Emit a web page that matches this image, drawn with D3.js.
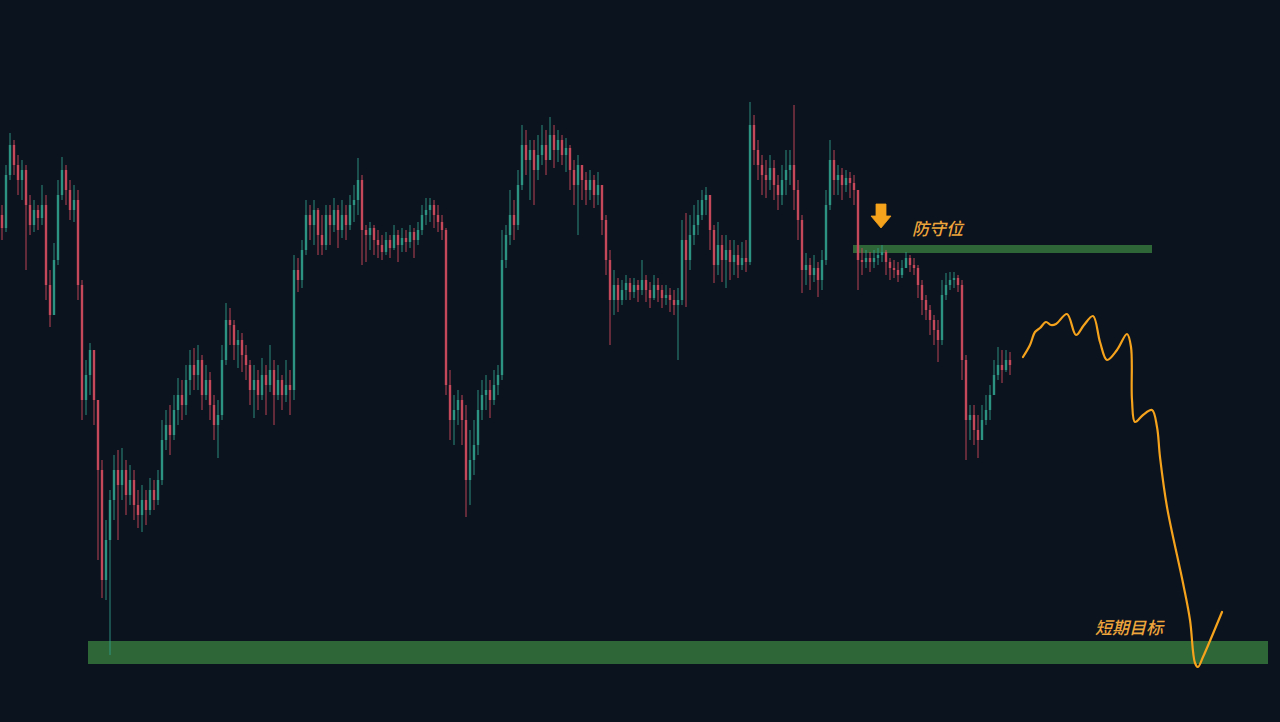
<!DOCTYPE html>
<html>
<head>
<meta charset="utf-8">
<script src="https://cdn.jsdelivr.net/npm/d3@7"></script>
<style>
  html, body { margin: 0; background: #0b131e; }
  svg { display: block; }
</style>
</head>
<body>
<svg id="chart" width="1280" height="722"></svg>
<script>
// price data (one candle per slot, open = previous close)
const firstOpen = 485;
const closes = [
  472,525,555,535,520,530,495,475,490,482,495,415,385,440,505,530,510,490,500,415,
  300,325,350,300,230,120,160,200,230,215,230,205,220,195,185,200,190,210,200,220,
  260,275,265,290,305,295,320,335,325,340,305,320,295,275,285,340,380,375,355,360,
  345,335,310,320,305,325,315,330,305,320,305,315,310,430,420,450,485,475,490,465,
  455,485,475,490,470,485,475,495,500,520,470,465,472,460,455,448,460,452,465,455,
  462,458,468,460,470,485,490,495,485,478,470,315,280,290,300,280,220,240,255,290,
  305,310,300,315,325,440,465,485,475,515,555,540,550,530,545,555,540,565,550,560,
  545,552,530,515,535,520,510,520,505,515,480,440,400,415,400,410,417,408,415,410,
  420,410,402,415,410,402,405,400,395,400,460,440,465,475,485,500,505,470,435,455,
  440,450,438,445,435,442,438,575,550,535,525,520,532,515,505,520,530,535,510,480,
  430,435,425,432,420,440,495,540,520,525,515,522,517,510,440,438,442,438,442,445,
  448,438,432,430,425,432,442,435,432,415,400,390,380,370,360,405,415,420,422,415,
  340,280,285,270,260,280,290,305,325,335,330,340,335
];
const highs = [
  495,535,567,560,545,540,535,505,500,495,515,505,430,457,520,543,535,520,515,510,
  420,340,357,340,280,240,180,210,245,250,252,240,235,230,210,215,210,222,220,230,
  280,290,295,305,322,320,335,350,352,355,345,335,328,305,300,355,397,392,380,370,
  367,355,340,335,330,342,335,355,340,335,325,340,330,445,442,460,500,495,500,492,
  485,495,495,502,495,500,495,505,515,542,525,475,478,475,470,465,468,465,475,470,
  472,470,475,472,478,495,502,502,500,495,485,472,330,305,310,305,295,270,280,310,
  320,325,320,330,335,470,475,510,500,530,575,570,560,560,565,575,570,583,575,570,
  565,562,555,540,545,532,528,530,525,528,500,485,450,430,422,420,425,422,422,420,
  440,425,418,425,422,415,415,412,410,412,480,487,485,495,500,510,513,505,475,478,
  465,465,460,460,455,458,460,598,585,560,545,540,545,540,525,535,550,550,595,520,
  485,447,442,445,438,450,510,560,550,535,532,530,528,525,510,452,450,448,450,452,
  455,450,442,440,438,440,448,445,442,435,420,405,395,385,380,420,427,428,428,425,
  420,345,295,295,285,295,305,315,340,353,350,350,348
];
const lows = [
  460,468,520,525,505,500,430,465,468,470,475,400,373,400,435,500,495,480,478,400,
  280,285,305,275,140,102,100,45,180,160,200,185,195,180,172,168,175,185,190,195,
  215,250,245,260,275,280,285,305,310,310,290,300,280,260,242,280,335,355,340,332,
  328,320,295,282,290,300,285,308,275,300,290,298,285,300,408,412,445,460,455,445,
  445,450,455,468,452,462,460,470,478,485,435,438,450,445,442,440,445,442,450,438,
  448,448,452,442,455,465,475,478,472,468,460,305,260,255,275,255,183,195,225,245,
  280,290,282,295,305,320,432,455,460,470,510,525,500,495,520,535,525,540,532,538,
  535,528,510,495,465,500,495,500,492,495,465,425,355,385,388,395,400,400,402,398,
  405,398,392,400,398,392,395,388,385,340,395,393,430,455,465,480,485,450,417,425,
  418,412,420,425,422,430,428,435,535,520,505,502,510,500,490,495,505,515,490,460,
  407,415,410,418,403,410,435,490,505,505,500,508,502,495,410,425,432,428,432,435,
  438,425,420,422,418,422,432,428,425,402,385,380,365,355,338,355,400,410,412,408,
  320,240,260,255,242,260,275,280,305,320,317,328,325
];

// annotation levels, in candle slots and price units
const defenceZone = { from: 212.75, to: 287.5, low: 447, high: 455 };
const targetZone = { from: 21.5, to: 316.5, low: 36, high: 59 };
const arrowSlot = 219.75;
const arrowPrice = [496, 472];
const defenceLabel = '防守位';
const targetLabel = '短期目标';

// hand-drawn projection after the last candle
const forecastSlots = [255.25,257,258.25,259.5,261,262.25,263.5,266.25,268.5,270.5,272.75,274.5,
  276.25,278.75,281.25,282.25,282.5,283.25,285.25,287.5,288.75,289.5,291.25,295.25,297,298.25,299,300.25,305];
const forecastPrices = [343,355,368,372,378,375,376,386,365,375,384,358,
  340,350,366,353,300,278,285,290,273,243,193,117,80,37,33,43,88];

const candles = closes.map((c, i) => {
  const o = i === 0 ? firstOpen : closes[i - 1];
  return {
    i, o, c,
    h: Math.max(highs[i], o, c),
    l: Math.min(lows[i], o, c)
  };
});

const svg = d3.select('#chart');
const x = d3.scaleLinear().domain([0, closes.length - 1]).range([2, 1010]);
const y = d3.scaleLinear().domain([40, 600]).range([660, 100]);

const up = '#2f9a89';
const down = '#cf4a5e';
const zoneColor = '#2e6637';
const orange = '#f5a21c';

svg.append('rect')
  .attr('width', 1280).attr('height', 722).attr('fill', '#0b131e');

// zones sit behind the candles
[targetZone, defenceZone].forEach(z => {
  svg.append('rect')
    .attr('x', x(z.from))
    .attr('y', y(z.high))
    .attr('width', x(z.to) - x(z.from))
    .attr('height', y(z.low) - y(z.high))
    .attr('fill', zoneColor);
});

const g = svg.append('g');
const bodyW = 2.4;

g.selectAll('line.wick')
  .data(candles)
  .join('line')
  .attr('class', 'wick')
  .attr('x1', d => x(d.i)).attr('x2', d => x(d.i))
  .attr('y1', d => y(d.h)).attr('y2', d => y(d.l))
  .attr('stroke', d => d.c >= d.o ? up : down)
  .attr('stroke-width', 1)
  .attr('opacity', 0.9);

g.selectAll('rect.body')
  .data(candles)
  .join('rect')
  .attr('class', 'body')
  .attr('x', d => x(d.i) - bodyW / 2)
  .attr('y', d => y(Math.max(d.o, d.c)))
  .attr('width', bodyW)
  .attr('height', d => Math.max(1, Math.abs(y(d.o) - y(d.c))))
  .attr('fill', d => d.c >= d.o ? up : down)
  .attr('opacity', 0.9);

// projected path
const forecast = forecastSlots.map((s, k) => [s, forecastPrices[k]]);
const line = d3.line()
  .x(d => x(d[0]))
  .y(d => y(d[1]))
  .curve(d3.curveCatmullRom.alpha(0.5));

svg.append('path')
  .attr('d', line(forecast))
  .attr('fill', 'none')
  .attr('stroke', orange)
  .attr('stroke-width', 2.2)
  .attr('stroke-linecap', 'round')
  .attr('stroke-linejoin', 'round');

// down arrow over the defence level
const ax = x(arrowSlot);
const aTop = y(arrowPrice[0]);
const aTip = y(arrowPrice[1]);
const headY = aTip - 12;
svg.append('path')
  .attr('d', `M${ax - 5},${aTop} L${ax + 5},${aTop} L${ax + 5},${headY} L${ax + 10},${headY}
    L${ax},${aTip} L${ax - 10},${headY} L${ax - 5},${headY} Z`)
  .attr('fill', orange)
  .attr('stroke', orange)
  .attr('stroke-width', 0.8)
  .attr('stroke-linejoin', 'round');

const labelStyle = sel => sel
  .attr('fill', '#eea53b')
  .attr('font-family', '"Noto Sans CJK SC", "Noto Sans", sans-serif')
  .attr('font-size', 17)
  .attr('font-weight', 500)
  .attr('font-style', 'italic');

svg.append('text')
  .attr('x', x(227.5)).attr('y', y(465))
  .text(defenceLabel)
  .call(labelStyle);

svg.append('text')
  .attr('x', x(273.25)).attr('y', y(66))
  .text(targetLabel)
  .call(labelStyle);
</script>
</body>
</html>
